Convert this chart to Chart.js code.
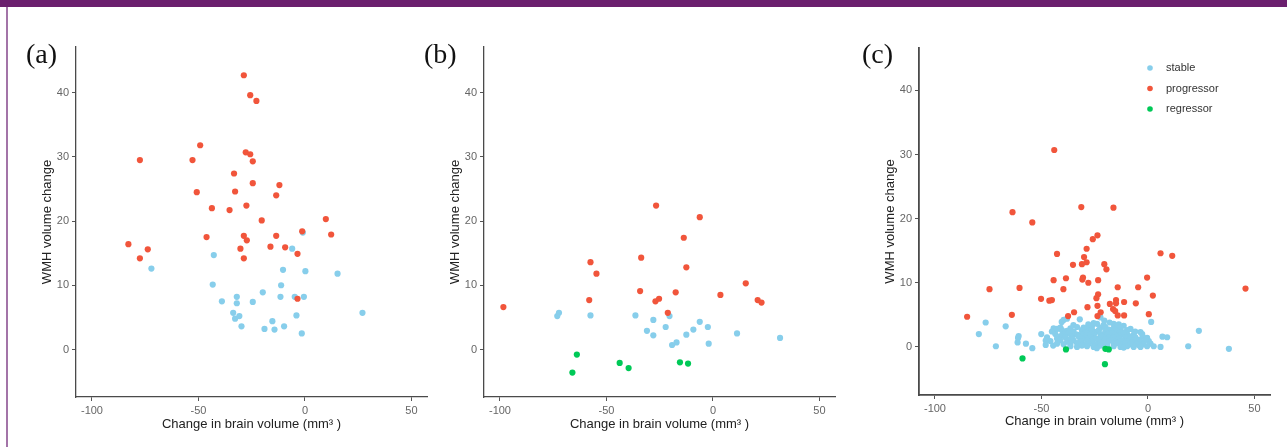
<!DOCTYPE html>
<html>
<head>
<meta charset="utf-8">
<script src="https://cdn.jsdelivr.net/npm/chart.js@4.4.0/dist/chart.umd.min.js"></script>
<style>
html, body { margin: 0; padding: 0; background: #fff; }
#page { position: relative; width: 1287px; height: 447px; overflow: hidden; background: #fff; }
#topbar { position: absolute; left: 0; top: 0; width: 1287px; height: 7px; background: #6b1f6e; }
#leftbar { position: absolute; left: 6px; top: 7px; width: 2px; height: 440px; background: #a374a8; }
canvas { position: absolute; top: 0; }
.tag { position: absolute; top: 40px; font-family: "Liberation Serif", "DejaVu Serif", serif; font-size: 28px; line-height: 1; color: #111; }
</style>
</head>
<body>
<div id="page">
  <div id="topbar"></div>
  <div id="leftbar"></div>
  <canvas id="chartA" width="440" height="447" style="left:0px"></canvas>
  <canvas id="chartB" width="410" height="447" style="left:440px"></canvas>
  <canvas id="chartC" width="437" height="447" style="left:850px"></canvas>
  <div class="tag" style="left:26px">(a)</div>
  <div class="tag" style="left:424px">(b)</div>
  <div class="tag" style="left:862px">(c)</div>
</div>
<script>
const groupLabels = ['stable', 'progressor', 'regressor'];
const groupColors = ['#87ceeb', '#f1553b', '#00c957'];
const xTicks = [-100, -50, 0, 50];
const yTicks = [0, 10, 20, 30, 40];

// panel (a): [brain volume change, WMH volume change]
const aStable = [
  [-72.1, 12.6], [-42.8, 14.7], [-43.3, 10.1], [-39.0, 7.5], [-32.0, 8.2], [-32.0, 7.2],
  [-33.7, 5.7], [-32.8, 4.8], [-30.8, 5.2], [-29.8, 3.6], [-24.5, 7.4], [-19.8, 8.9],
  [-19.0, 3.2], [-15.3, 4.4], [-14.3, 3.1], [-9.8, 3.6], [-11.2, 10.0], [-10.3, 12.4],
  [-11.5, 8.2], [-6.0, 15.7], [-4.8, 8.2], [-4.0, 5.3], [-1.5, 2.5], [-0.5, 8.2],
  [0.2, 12.2], [-1.0, 18.2], [15.3, 11.8], [27.0, 5.7]
];
const aProg = [
  [-28.7, 42.7], [-25.7, 39.6], [-22.8, 38.7], [-49.2, 31.8], [-77.5, 29.5], [-52.8, 29.5],
  [-27.8, 30.7], [-25.7, 30.4], [-24.5, 29.3], [-33.3, 27.4], [-24.5, 25.9], [-12.0, 25.6],
  [-50.8, 24.5], [-32.8, 24.6], [-13.5, 24.0], [-43.7, 22.0], [-27.5, 22.4], [-35.4, 21.7],
  [-20.3, 20.1], [9.8, 20.3], [12.3, 17.9], [-46.2, 17.5], [-28.7, 17.7], [-27.3, 17.0],
  [-13.5, 17.7], [-1.3, 18.4], [-82.9, 16.4], [-73.8, 15.6], [-77.5, 14.2], [-30.3, 15.7],
  [-28.7, 14.2], [-16.2, 16.0], [-9.3, 15.9], [-3.5, 14.9], [-3.5, 7.9]
];

// panel (b)
const bStable = [
  [-73.1, 5.2], [-72.3, 5.7], [-57.5, 5.3], [-36.4, 5.3], [-28.0, 4.6], [-31.0, 2.9],
  [-28.0, 2.2], [-22.2, 3.5], [-20.4, 5.2], [-19.2, 0.7], [-17.1, 1.1], [-12.5, 2.3],
  [-9.2, 3.1], [-6.2, 4.3], [-2.4, 3.5], [-2.0, 0.9], [11.3, 2.5], [31.5, 1.8]
];
const bProg = [
  [-26.7, 22.4], [-6.2, 20.6], [-13.7, 17.4], [-57.5, 13.6], [-33.7, 14.3], [-54.7, 11.8],
  [-12.5, 12.8], [15.4, 10.3], [-34.2, 9.1], [-17.5, 8.9], [3.5, 8.5], [-27.0, 7.5],
  [-25.3, 7.9], [-58.1, 7.7], [21.0, 7.7], [22.8, 7.3], [-21.2, 5.7], [-98.4, 6.6]
];
const bReg = [
  [-63.9, -0.8], [-66.0, -3.6], [-43.8, -2.1], [-39.6, -2.9], [-15.5, -2.0], [-11.7, -2.2]
];

// panel (c)
const cStable = [
  [-39.6, 4.2], [-38.0, 4.4], [-32.0, 4.3], [-22.3, 4.6], [-40.5, 3.9], [-20.5, 4.1],
  [-23.9, 3.6], [-20.8, 3.4], [-16.1, 3.6], [-13.7, 3.5], [-11.4, 3.3], [-25.5, 3.7], [-14.9, 3.3],
  [-18.0, 3.8], [-35.0, 3.4], [-28.0, 3.5],
  [-44.3, 2.9], [-42.7, 2.8], [-41.1, 3.0], [-36.4, 2.9], [-33.3, 3.1], [-28.6, 2.9], [-26.3, 3.2],
  [-22.3, 3.0], [-16.1, 2.9], [-12.9, 3.0], [-8.2, 2.8], [-30.2, 3.0], [-20.0, 3.1], [-18.4, 2.7],
  [-45.1, 2.4], [-40.4, 2.6], [-38.0, 2.5], [-34.9, 2.4], [-31.0, 2.6], [-27.8, 2.5], [-24.7, 2.3],
  [-23.1, 2.6], [-20.0, 2.4], [-14.5, 2.5], [-12.1, 2.3], [-3.5, 2.3], [-17.6, 2.2], [-29.4, 2.2],
  [-9.8, 2.6], [-26.3, 2.7], [-6.0, 2.4], [-15.8, 2.7],
  [-43.5, 2.0], [-39.6, 1.9], [-37.2, 2.1], [-33.3, 1.9], [-31.0, 2.0], [-28.6, 2.1], [-25.5, 1.8],
  [-22.3, 2.0], [-19.2, 1.9], [-16.9, 2.1], [-12.9, 1.8], [-9.8, 2.0], [-6.7, 1.9], [-2.7, 2.0],
  [-35.7, 1.7], [-21.6, 1.7], [-15.3, 1.8], [-11.4, 2.2], [-8.2, 1.6], [-41.0, 1.7], [-27.0, 1.9],
  [-47.4, 1.5], [-42.7, 1.3], [-38.8, 1.5], [-35.7, 1.4], [-32.5, 1.6], [-29.4, 1.4], [-27.0, 1.5],
  [-23.9, 1.3], [-21.6, 1.6], [-18.4, 1.4], [-16.1, 1.5], [-13.7, 1.3], [-10.6, 1.5], [-8.2, 1.3],
  [-5.9, 1.5], [-0.4, 1.4], [-25.5, 1.2], [-20.0, 1.2], [-4.3, 1.1], [-30.9, 1.2], [-2.5, 1.6],
  [-45.8, 0.9], [-41.1, 1.0], [-38.0, 0.8], [-34.9, 1.0], [-31.7, 0.9], [-28.6, 1.0], [-26.3, 0.8],
  [-23.1, 1.0], [-20.8, 0.9], [-17.6, 1.0], [-15.3, 0.8], [-12.1, 1.0], [-9.8, 0.9], [-6.7, 1.0],
  [-3.5, 0.8], [0.4, 0.9], [-36.4, 1.2], [-19.2, 0.6], [-13.7, 0.7], [-1.2, 1.1], [-7.4, 0.7],
  [-42.7, 0.5], [-39.6, 0.4], [-36.4, 0.5], [-33.3, 0.6], [-30.2, 0.4], [-27.8, 0.5], [-24.7, 0.4],
  [-22.3, 0.6], [-19.2, 0.3], [-16.1, 0.5], [-12.9, 0.4], [-10.6, 0.6], [-8.2, 0.4], [-5.1, 0.5],
  [-2.0, 0.4], [1.2, 0.5], [2.7, 0.1], [-21.0, 0.5], [-14.5, 0.6], [-4.3, 0.3], [-44.5, 0.2],
  [-36.4, 0.1], [-33.3, 0.0], [-28.6, 0.1], [-25.5, 0.0], [-22.3, 0.2], [-19.2, 0.0], [-16.1, 0.1],
  [-12.9, 0.0], [-9.8, 0.1], [-6.7, 0.0], [-0.4, 0.1], [-31.0, 0.2], [-11.4, -0.1], [-3.5, 0.0],
  [-24.0, -0.2],
  [-76.2, 3.8], [-79.4, 2.0], [-66.8, 3.2], [-71.4, 0.1], [-60.7, 1.7], [-61.0, 1.4], [-61.2, 0.7],
  [-57.3, 0.5], [-54.3, -0.2], [-50.1, 2.0], [-48.0, 1.0], [-48.0, 0.3], [1.5, 3.9], [5.9, 0.0],
  [6.8, 1.6], [9.0, 1.5], [18.9, 0.1], [23.9, 2.5], [38.0, -0.3]
];
const cProg = [
  [-44.0, 30.7], [-63.6, 21.0], [-54.3, 19.4], [-31.3, 21.8], [-16.2, 21.7], [-25.9, 16.8],
  [-23.7, 17.4], [-28.8, 15.3], [-42.7, 14.5], [-30.0, 14.0], [-31.0, 12.9], [-28.8, 13.2],
  [-35.2, 12.8], [-20.5, 12.9], [-19.5, 12.1], [5.9, 14.6], [11.4, 14.2], [-44.3, 10.4],
  [-38.5, 10.7], [-30.5, 10.8], [-30.8, 10.5], [-28.0, 10.0], [-23.4, 10.4], [-0.4, 10.8],
  [-74.4, 9.0], [-60.3, 9.2], [-39.7, 9.0], [-14.2, 9.3], [-4.6, 9.3], [-50.2, 7.5],
  [-46.3, 7.2], [-45.1, 7.3], [-23.4, 8.2], [-24.2, 7.6], [2.3, 8.0], [-17.9, 6.7],
  [-15.0, 7.3], [-15.0, 6.8], [-11.2, 7.0], [-5.7, 6.8], [-28.4, 6.2], [-23.7, 6.4],
  [-16.4, 5.9], [-15.4, 5.6], [-34.7, 5.4], [-22.2, 5.4], [-37.5, 4.8], [-23.7, 4.8],
  [-14.2, 4.9], [-11.2, 4.9], [0.4, 5.1], [-84.9, 4.7], [-63.9, 5.0], [45.8, 9.1]
];
const cReg = [
  [-58.9, -1.8], [-38.5, -0.4], [-20.0, -0.3], [-18.4, -0.4], [-20.2, -2.7]
];

const insideLegend = {
  id: 'insideLegend',
  afterDatasetsDraw(chart) {
    const ctx = chart.ctx;
    const area = chart.chartArea;
    ctx.save();
    ctx.font = '11px "Liberation Sans", Arial, sans-serif';
    ctx.textBaseline = 'middle';
    chart.data.datasets.forEach(function(ds, i) {
      const x = area.right - 120;
      const y = area.top + 20 + i * 20.5;
      ctx.fillStyle = ds.backgroundColor;
      ctx.beginPath();
      ctx.arc(x, y, 2.8, 0, Math.PI * 2);
      ctx.fill();
      ctx.fillStyle = '#333';
      ctx.fillText(ds.label, x + 16, y);
    });
    ctx.restore();
  }
};

function makeDatasets(groups) {
  return groups.map(function(pts, i) {
    return {
      label: groupLabels[i],
      data: pts.map(p => ({x: p[0], y: p[1]})),
      backgroundColor: groupColors[i],
      borderWidth: 0,
      pointRadius: 3.1,
      pointHoverRadius: 3.1,
      order: 3 - i
    };
  });
}

function makePanel(id, groups, pad, yRange, xHeight, axisWidth, plugins) {
  const axisFont = {family: '"Liberation Sans", Arial, sans-serif', size: 13};
  const tickFont = {family: '"Liberation Sans", Arial, sans-serif', size: 11};
  return new Chart(document.getElementById(id), {
    type: 'scatter',
    data: { datasets: makeDatasets(groups) },
    options: {
      responsive: false,
      animation: false,
      layout: { padding: pad },
      plugins: {
        legend: { display: false },
        tooltip: { enabled: false }
      },
      scales: {
        x: {
          type: 'linear',
          min: -107.5,
          max: 57.3,
          afterBuildTicks: function(scale) { scale.ticks = xTicks.map(v => ({value: v})); },
          afterFit: function(scale) { scale.height = xHeight; },
          ticks: { color: '#666', font: tickFont, padding: 3, maxRotation: 0 },
          grid: { drawOnChartArea: false, drawTicks: true, tickLength: 4, color: '#555' },
          border: { display: true, color: '#4a4a4a', width: axisWidth },
          title: { display: true, text: 'Change in brain volume (mm³ )', color: '#222', font: axisFont, padding: 0 }
        },
        y: {
          type: 'linear',
          min: yRange[0],
          max: yRange[1],
          afterBuildTicks: function(scale) { scale.ticks = yTicks.map(v => ({value: v})); },
          afterFit: function(scale) { scale.width = 36; },
          ticks: { color: '#666', font: tickFont, padding: 3 },
          grid: { drawOnChartArea: false, drawTicks: true, tickLength: 4, color: '#555' },
          border: { display: true, color: '#4a4a4a', width: axisWidth },
          title: { display: true, text: 'WMH volume change', color: '#222', font: axisFont, padding: 0 }
        }
      }
    },
    plugins: plugins || []
  });
}

makePanel('chartA', [aStable, aProg], {left: 40, right: 13, top: 47, bottom: 15}, [-7.4, 47.1], 35, 1.3);
makePanel('chartB', [bStable, bProg, bReg], {left: 8, right: 15, top: 47, bottom: 15}, [-7.4, 47.1], 35, 1.3);
makePanel('chartC', [cStable, cProg, cReg], {left: 33, right: 17, top: 48, bottom: 17.5}, [-7.5, 46.6], 34.5, 1.8, [insideLegend]);
</script>
</body>
</html>
